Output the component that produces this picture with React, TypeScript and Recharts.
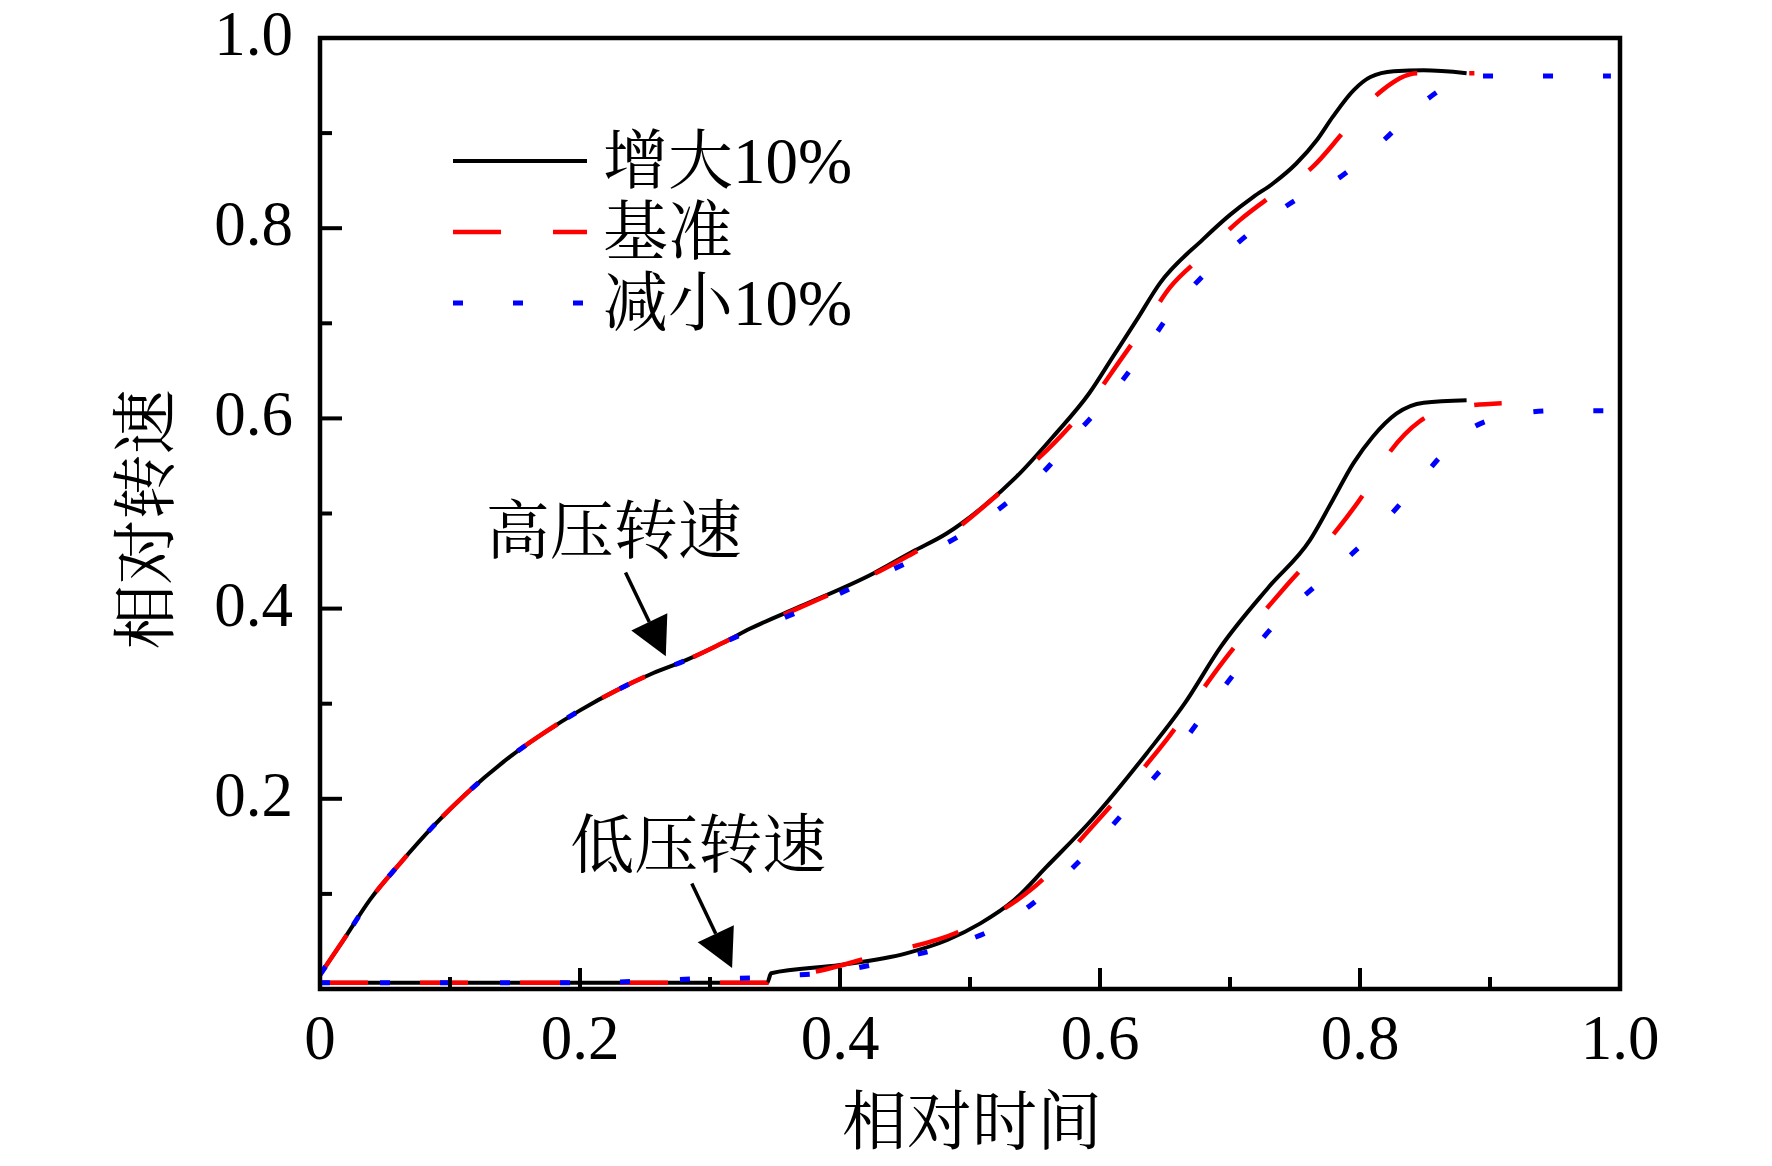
import { LineChart, Line, XAxis, YAxis, ReferenceArea, ReferenceLine, ReferenceDot, Label } from 'recharts'

const FONT = "'Liberation Serif', 'Times New Roman', 'Noto Serif CJK SC', 'Noto Sans CJK SC', serif"

// 高压转速
const hpUpX = [0, 0.018, 0.0385, 0.0615, 0.087, 0.113, 0.146, 0.172, 0.2, 0.228, 0.256, 0.282, 0.31, 0.331, 0.369, 0.4256, 0.456, 0.482, 0.51, 0.536, 0.564, 0.592, 0.61, 0.628, 0.646, 0.679, 0.7, 0.718, 0.733, 0.751, 0.767, 0.779, 0.795, 0.808, 0.826, 0.849, 0.882]
const hpUpY = [0.015, 0.0515, 0.094, 0.132, 0.171, 0.206, 0.244, 0.269, 0.293, 0.314, 0.332, 0.346, 0.364, 0.379, 0.402, 0.437, 0.46, 0.479, 0.507, 0.539, 0.581, 0.627, 0.665, 0.703, 0.742, 0.788, 0.814, 0.833, 0.847, 0.868, 0.893, 0.917, 0.945, 0.959, 0.965, 0.966, 0.963]
const hpBaseX = [0, 0.018, 0.0385, 0.0615, 0.087, 0.113, 0.146, 0.172, 0.2, 0.228, 0.256, 0.282, 0.31, 0.331, 0.369, 0.4256, 0.456, 0.482, 0.523, 0.579, 0.592, 0.615, 0.633, 0.654, 0.678, 0.708, 0.733, 0.764, 0.788, 0.818, 0.844, 0.888]
const hpBaseY = [0.015, 0.0515, 0.094, 0.132, 0.171, 0.206, 0.244, 0.269, 0.293, 0.314, 0.332, 0.346, 0.364, 0.378, 0.401, 0.436, 0.458, 0.477, 0.522, 0.595, 0.616, 0.66, 0.695, 0.738, 0.77, 0.809, 0.835, 0.865, 0.902, 0.946, 0.963, 0.963]
const hpDownX = [0, 0.018, 0.0385, 0.0615, 0.087, 0.113, 0.146, 0.172, 0.2, 0.228, 0.256, 0.282, 0.31, 0.323, 0.359, 0.4256, 0.459, 0.495, 0.528, 0.5615, 0.574, 0.605, 0.632, 0.656, 0.685, 0.718, 0.751, 0.785, 0.817, 0.853, 0.865, 0.88, 0.895, 0.993]
const hpDownY = [0.015, 0.0515, 0.094, 0.132, 0.171, 0.206, 0.244, 0.269, 0.293, 0.314, 0.332, 0.346, 0.364, 0.372, 0.3915, 0.432, 0.453, 0.479, 0.5107, 0.551, 0.572, 0.619, 0.667, 0.714, 0.758, 0.798, 0.83, 0.854, 0.891, 0.937, 0.948, 0.956, 0.96, 0.96]

// 低压转速
const lpUpX = [0, 0.344, 0.347, 0.4, 0.451, 0.4825, 0.508, 0.534, 0.559, 0.5935, 0.636, 0.665, 0.693, 0.73, 0.7615, 0.779, 0.795, 0.81, 0.828, 0.849, 0.882]
const lpUpY = [0.0066, 0.0066, 0.0165, 0.0252, 0.0375, 0.0515, 0.069, 0.0935, 0.1286, 0.1777, 0.248, 0.3, 0.36, 0.423, 0.472, 0.514, 0.553, 0.581, 0.605, 0.6165, 0.619]
const lpBaseX = [0, 0.344, 0.347, 0.363, 0.434, 0.491, 0.5465, 0.602, 0.652, 0.6945, 0.744, 0.783, 0.803, 0.822, 0.846, 0.872, 0.909]
const lpBaseY = [0.0066, 0.0066, 0.0135, 0.0147, 0.0375, 0.06, 0.104, 0.183, 0.2636, 0.344, 0.425, 0.484, 0.521, 0.563, 0.597, 0.611, 0.616]
const lpDownX = [0, 0.2, 0.3, 0.344, 0.349, 0.386, 0.457, 0.491, 0.5265, 0.559, 0.595, 0.6276, 0.6575, 0.683, 0.7115, 0.741, 0.776, 0.808, 0.838, 0.864, 0.879, 0.91, 0.95, 0.998]
const lpDownY = [0.0066, 0.0066, 0.011, 0.012, 0.013, 0.0165, 0.0357, 0.048, 0.069, 0.102, 0.15, 0.2005, 0.248, 0.295, 0.346, 0.393, 0.436, 0.476, 0.521, 0.563, 0.583, 0.602, 0.608, 0.608]

const xTicks = [0, 0.1, 0.2, 0.3, 0.4, 0.5, 0.6, 0.7, 0.8, 0.9, 1.0]
const yTicks = [0, 0.1, 0.2, 0.3, 0.4, 0.5, 0.6, 0.7, 0.8, 0.9, 1.0]

const legendNames = ['增大10%', '基准', '减小10%']
const annotations = ['高压转速', '低压转速']

const toPoints = (xs: number[], ys: number[]) => xs.map((x, i) => ({ x, y: ys[i] }))

const STYLES = [
  { color: '#000000', dash: undefined as string | undefined, width: 4 },
  { color: '#ff0000', dash: '48 52', width: 4.5 },
  { color: '#0000ff', dash: '10 50', width: 5 },
]

const lines = [
  { key: 'hpUp', data: toPoints(hpUpX, hpUpY), style: 0 },
  { key: 'lpUp', data: toPoints(lpUpX, lpUpY), style: 0 },
  { key: 'hpBase', data: toPoints(hpBaseX, hpBaseY), style: 1 },
  { key: 'lpBase', data: toPoints(lpBaseX, lpBaseY), style: 1 },
  { key: 'hpDown', data: toPoints(hpDownX, hpDownY), style: 2 },
  { key: 'lpDown', data: toPoints(lpDownX, lpDownY), style: 2 },
]

const isMajor = (v: number) => Math.round(v * 10) % 2 === 0
const fmt = (v: number) => (v === 0 ? '0' : v.toFixed(1))

const XTick = ({ x, y, payload }: any) => {
  const v = payload.value
  return (
    <g>
      <line x1={x} y1={y} x2={x} y2={y - (isMajor(v) ? 21 : 12)} stroke="#000" strokeWidth={4} />
      {isMajor(v) && (
        <text x={x} y={y + 70} textAnchor="middle" fontSize={63} fontFamily={FONT} fill="#000">
          {fmt(v)}
        </text>
      )}
    </g>
  )
}

const YTick = ({ x, y, payload }: any) => {
  const v = payload.value
  return (
    <g>
      <line x1={x} y1={y} x2={x + (isMajor(v) ? 22 : 12)} y2={y} stroke="#000" strokeWidth={4} />
      {isMajor(v) && v !== 0 && (
        <text x={x - 27} y={y + 17} textAnchor="end" fontSize={63} fontFamily={FONT} fill="#000">
          {fmt(v)}
        </text>
      )}
    </g>
  )
}

const Arrow = ({ x1, y1, x2, y2 }: any) => {
  const dx = x2 - x1
  const dy = y2 - y1
  const len = Math.sqrt(dx * dx + dy * dy)
  const ux = dx / len
  const uy = dy / len
  const headLen = 38
  const halfW = 20
  const bx = x2 - ux * headLen
  const by = y2 - uy * headLen
  return (
    <g>
      <line x1={x1} y1={y1} x2={bx} y2={by} stroke="#000" strokeWidth={3.5} />
      <polygon
        points={`${x2},${y2} ${bx - uy * halfW},${by + ux * halfW} ${bx + uy * halfW},${by - ux * halfW}`}
        fill="#000"
      />
    </g>
  )
}

const NoteText = (text: string) => ({ cx, cy }: any) => (
  <text x={cx} y={cy} textAnchor="middle" dominantBaseline="central" fontSize={64} fontFamily={FONT} fill="#000">
    {text}
  </text>
)

const YTitle = ({ viewBox }: any) => {
  const cx = viewBox.x + 146
  const cy = viewBox.y + viewBox.height / 2 + 6
  return (
    <text
      x={cx}
      y={cy}
      transform={`rotate(-90 ${cx} ${cy})`}
      textAnchor="middle"
      dominantBaseline="central"
      fontSize={65}
      fontFamily={FONT}
      fill="#000"
    >
      相对转速
    </text>
  )
}

const XTitle = ({ viewBox }: any) => (
  <text
    x={viewBox.x + viewBox.width / 2 + 2}
    y={viewBox.y + 133}
    textAnchor="middle"
    dominantBaseline="central"
    fontSize={65}
    fontFamily={FONT}
    fill="#000"
  >
    相对时间
  </text>
)

function LegendBox() {
  return (
    <svg width={480} height={240} style={{ position: 'absolute', left: 440, top: 100 }}>
      {legendNames.map((name, i) => {
        const s = STYLES[i]
        const cy = 61 + i * 71
        return (
          <g key={name}>
            <line x1={13} y1={cy} x2={147} y2={cy} stroke={s.color} strokeWidth={s.width} strokeDasharray={s.dash} />
            <text x={163} y={cy} dominantBaseline="central" fontSize={65} fontFamily={FONT} fill="#000">
              {name}
            </text>
          </g>
        )
      })}
    </svg>
  )
}

export default function App() {
  return (
    <div style={{ position: 'absolute', left: 0, top: 0, width: 1772, height: 1166, background: '#fff' }}>
      <LineChart width={1772} height={1166} margin={{ top: 38, right: 152, bottom: 77, left: 0 }}>
        <XAxis
          type="number"
          dataKey="x"
          domain={[0, 1]}
          ticks={xTicks}
          interval={0}
          tickSize={0}
          tickMargin={0}
          axisLine={false}
          tickLine={false}
          height={100}
          tick={(p: any) => <XTick {...p} />}
        >
          <Label content={<XTitle />} />
        </XAxis>
        <YAxis
          type="number"
          dataKey="y"
          domain={[0, 1]}
          ticks={yTicks}
          interval={0}
          tickSize={0}
          tickMargin={0}
          axisLine={false}
          tickLine={false}
          width={320}
          tick={(p: any) => <YTick {...p} />}
        >
          <Label content={<YTitle />} />
        </YAxis>
        <ReferenceArea x1={0} x2={1} y1={0} y2={1} stroke="#000" strokeWidth={4.5} fill="none" fillOpacity={0} />
        {lines.map((l) => {
          const s = STYLES[l.style]
          return (
            <Line
              key={l.key}
              data={l.data}
              dataKey="y"
              type="monotone"
              stroke={s.color}
              strokeWidth={s.width}
              strokeDasharray={s.dash}
              dot={false}
              activeDot={false}
              isAnimationActive={false}
            />
          )
        })}
        <ReferenceLine segment={[{ x: 0.235, y: 0.438 }, { x: 0.266, y: 0.35 }]} shape={(p: any) => <Arrow {...p} />} />
        <ReferenceLine segment={[{ x: 0.286, y: 0.111 }, { x: 0.317, y: 0.022 }]} shape={(p: any) => <Arrow {...p} />} />
        <ReferenceDot x={0.226} y={0.481} shape={NoteText(annotations[0])} />
        <ReferenceDot x={0.291} y={0.151} shape={NoteText(annotations[1])} />
      </LineChart>
      <LegendBox />
    </div>
  )
}
